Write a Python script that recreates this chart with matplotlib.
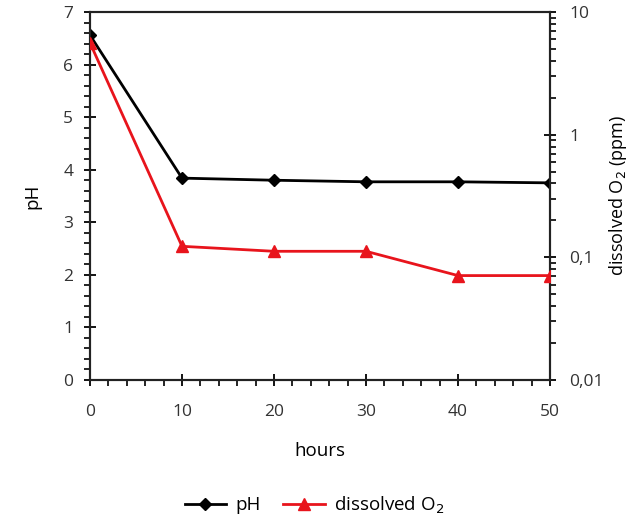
import matplotlib
matplotlib.use("Agg")
import matplotlib.pyplot as plt
from matplotlib.ticker import MultipleLocator, FixedLocator, FixedFormatter, LogLocator, NullFormatter

plt.rcParams['font.family'] = ['Open Sans', 'DejaVu Sans']

hours = [0, 10, 20, 30, 40, 50]
ph = [6.56, 3.84, 3.80, 3.77, 3.77, 3.75]
o2 = [5.6, 0.123, 0.112, 0.112, 0.071, 0.071]

fig = plt.figure(figsize=(6.29, 5.24), dpi=100)
ax = fig.add_axes([90/629, 1-380/524, 460/629, 368/524])
ax2 = ax.twinx()

l1, = ax.plot(hours, ph, color='black', lw=2, marker='D', ms=6, label='pH', zorder=3)
l2, = ax2.plot(hours, o2, color='#e8141c', lw=2, marker='^', ms=9, label='dissolved O$_2$', zorder=3)

ax.set_xlim(0, 50)
ax.set_ylim(0, 7)
ax2.set_yscale('log')
ax2.set_ylim(0.01, 10)

ax.xaxis.set_major_locator(MultipleLocator(10))
ax.xaxis.set_minor_locator(MultipleLocator(2))
ax.yaxis.set_major_locator(MultipleLocator(1))
ax.yaxis.set_minor_locator(MultipleLocator(0.2))
ax2.yaxis.set_major_locator(FixedLocator([0.01, 0.1, 1, 10]))
ax2.yaxis.set_major_formatter(FixedFormatter(['0,01', '0,1', '1', '10']))
ax2.yaxis.set_minor_locator(LogLocator(base=10, subs=range(2, 10)))
ax2.yaxis.set_minor_formatter(NullFormatter())

for a in (ax, ax2):
    for s in a.spines.values():
        s.set_linewidth(1.5)
        s.set_color('#222222')
ax.tick_params(which='major', direction='inout', length=8, width=1.3, labelsize=12.5, pad=8, labelcolor='#333333')
ax.tick_params(which='minor', direction='out', length=4, width=1.2)
ax.tick_params(axis='x', which='major', pad=13)
ax2.tick_params(which='major', direction='inout', length=8, width=1.3, labelsize=12.5, pad=10, labelcolor='#333333')
ax2.tick_params(which='minor', direction='out', length=4, width=1.2)

ax.set_xlabel('hours', fontsize=13.5, labelpad=16)
ax.set_ylabel('pH', fontsize=13.5, labelpad=16)
ax2.set_ylabel('dissolved O$_2$ (ppm)', fontsize=13, labelpad=2)

fig.legend(handles=[l1, l2], loc='center', bbox_to_anchor=(0.5, 1-505/524), ncol=2,
           frameon=False, fontsize=13.5, handlelength=2.2, columnspacing=1.2, handletextpad=0.5)

fig.savefig('out.png', dpi=100)
